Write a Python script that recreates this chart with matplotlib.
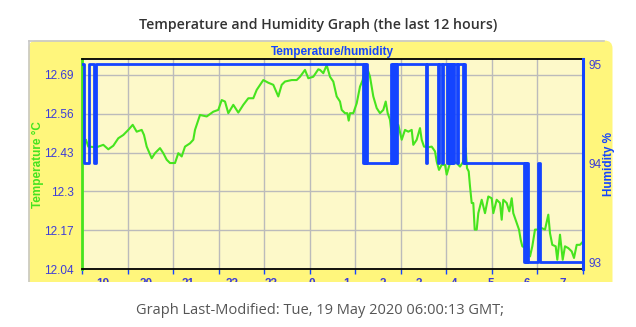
import matplotlib
matplotlib.use("Agg")
import matplotlib.pyplot as plt
import numpy as np
from matplotlib.patches import FancyBboxPatch, Rectangle
from matplotlib.lines import Line2D
from matplotlib.transforms import IdentityTransform

W, H = 636, 327

# temperature samples: (sample index, degC)
temp_idx = [
    1.7, 4, 6.3, 14.7, 21.3, 26.3, 31.3, 36.3, 41.3, 46.3, 50.7, 54.7, 59.7, 62, 64.7,
    69.7, 73, 78, 81.3, 84.7, 88, 93, 96.3, 99.7, 103, 108, 111.3, 113, 118, 124.7,
    131.3, 136.3, 139.7, 143, 146.3, 151.3, 156.3, 161.3, 166.3, 171.3, 174.7, 181.3,
    186.3, 191.3, 196.3, 199.7, 203, 209.7, 214.7, 218, 223, 226.3, 231.3, 236.3,
    238, 241.3, 244.7, 248, 251.3, 254.7, 258, 259.7, 263, 265.3, 266.7, 268, 271.3,
    274.7, 278, 280.7, 283, 285.3, 288, 291.3, 294.7, 298, 301.3, 303.7, 305.7, 308,
    309.7, 312, 316.3, 319.7, 323, 326.3, 329.7, 331.3, 334.7, 338, 339.7, 342, 346.3,
    349.7, 353, 354.7, 357, 359.7, 363, 364.7, 368, 371.3, 374.7, 378, 381.3, 383.7,
    385, 386.7, 388, 389.7, 391.3, 392.7, 394.7, 396.3, 399.7, 401.3, 403, 406.3,
    409.7, 411.3, 414.7, 418, 419.7, 421.3, 424.7, 427.3, 429.7, 431.3, 434.7, 437,
    438.7, 440.3, 443.7, 446.3, 448, 450.3, 453, 456.3, 459.7, 463, 466.3, 468, 470.3,
    473.7, 475.3, 478, 480.7, 483, 486.3, 489.7, 492, 494.7, 498, 501,
]
temp_vals = [
    12.450, 12.473, 12.450, 12.448, 12.456, 12.441, 12.453, 12.478, 12.489, 12.506,
    12.523, 12.500, 12.506, 12.489, 12.450, 12.411, 12.428, 12.445, 12.428, 12.406,
    12.395, 12.395, 12.428, 12.417, 12.450, 12.461, 12.473, 12.506, 12.556, 12.551,
    12.567, 12.573, 12.606, 12.601, 12.562, 12.590, 12.564, 12.590, 12.612, 12.612,
    12.640, 12.673, 12.664, 12.657, 12.618, 12.657, 12.668, 12.673, 12.673, 12.684,
    12.707, 12.679, 12.684, 12.709,
    12.707, 12.696, 12.723, 12.684, 12.668, 12.618, 12.601, 12.573, 12.562, 12.562,
    12.537, 12.562, 12.562, 12.595, 12.651, 12.673, 12.720, 12.712, 12.684, 12.618,
    12.579, 12.562, 12.573, 12.601, 12.562, 12.540, 12.489, 12.517, 12.523, 12.473,
    12.506, 12.500, 12.506, 12.456, 12.473, 12.512, 12.473, 12.450, 12.448, 12.450,
    12.434, 12.400, 12.372, 12.389, 12.389, 12.356, 12.395, 12.400, 12.395, 12.383,
    12.400, 12.445, 12.378, 12.367, 12.317, 12.261, 12.261, 12.172, 12.172, 12.227,
    12.272, 12.250, 12.227, 12.283, 12.277, 12.227, 12.272, 12.261, 12.205, 12.272,
    12.261, 12.233, 12.277, 12.227, 12.194, 12.172, 12.138, 12.116, 12.110, 12.116,
    12.082, 12.116, 12.172, 12.172, 12.177, 12.172, 12.222, 12.160, 12.121, 12.116,
    12.071, 12.155, 12.071, 12.116, 12.110, 12.099, 12.077, 12.121, 12.121, 12.132,
]

# humidity change points: (sample index, %), held until the next one
hum_idx = [
    0, 2, 7, 12, 14,
    281, 282, 283, 284, 285,
    309, 310, 311, 312, 313, 314, 315,
    344, 345,
    356, 357, 360, 361.5, 365, 366, 367, 368, 369, 370, 371, 372, 375, 375.7, 381, 382, 383,
    442, 443, 444, 445, 446, 456, 457.5, 501,
]
hum_vals = [
    95, 94, 95, 94, 95,
    94, 95, 94, 95, 94,
    95, 94, 95, 94, 95, 94, 95,
    94, 95,
    94, 95, 94, 95, 94, 95, 94, 95, 94, 95, 94, 95, 94, 95, 94, 95, 94,
    93, 94, 93, 94, 93, 94, 93, 93,
]

n_samples = 501
hour_labels = ["19", "20", "21", "22", "23", "0", "1", "2", "3", "4", "5", "6", "7"]
hour_label_idx = [20.7, 64, 106, 149.7, 189, 229.7, 264.7, 301.3, 337.3, 372.3, 408.7, 444.7, 480.7]

temp_ticks = [12.04, 12.17, 12.3, 12.43, 12.56, 12.69]
temp_tick_labels = ["12.04", "12.17", "12.3", "12.43", "12.56", "12.69"]
hum_ticks = [93, 94, 95]

GREEN = "#46e41e"
BLUE = "#1444ff"
LABEL_BLUE = "#3c3cd8"
PANEL = "#fff67c"
PLOT_BG = "#fdf9c9"

fig = plt.figure(figsize=(W / 100, H / 100), dpi=100)
fig.patch.set_facecolor("white")

# yellow panel behind the chart
panel = FancyBboxPatch((28.5, 20), 584, H - 40.5 - 20,
                       boxstyle="round,pad=0,rounding_size=8",
                       transform=IdentityTransform(), facecolor=PANEL,
                       edgecolor="none", zorder=-5)
fig.add_artist(panel)
fig.add_artist(Line2D([28.5, 604], [H - 40.5, H - 40.5], transform=IdentityTransform(),
                      color="#c8c8c8", lw=1.2, zorder=-4))
fig.add_artist(Line2D([28.5, 28.5], [H - 40.5, 20], transform=IdentityTransform(),
                      color="#c8c8c8", lw=1.2, zorder=-4))

left, right, top, bottom = 82, 583, 59.3, 269
ax = fig.add_axes([left / W, (H - bottom) / H, (right - left) / W, (bottom - top) / H])
ax.set_facecolor(PLOT_BG)

ax.plot(temp_idx, temp_vals, color=GREEN, lw=1.5, zorder=3)
ax.set_xlim(0, n_samples)
ax.set_ylim(12.04, 12.7425)

ax.set_yticks(temp_ticks, temp_tick_labels)
ax.set_xticks(np.linspace(0, n_samples, 12), [""] * 12)
ax.set_xticks(hour_label_idx, hour_labels, minor=True)
ax.grid(True, which="major", color="#bbbbbb", lw=1)
ax.set_axisbelow(True)

ax.tick_params(axis="y", length=0, pad=6, labelsize=8.5, labelcolor=LABEL_BLUE)
ax.tick_params(axis="x", which="major", length=3.5, width=1, color=BLUE, direction="out")
ax.tick_params(axis="x", which="minor", length=0, pad=6.5, labelsize=8.5, labelcolor=LABEL_BLUE)
for lab in ax.get_xticklabels(minor=True):
    lab.set_fontweight("bold")
for lab in ax.get_xticklabels(minor=True) + ax.get_yticklabels():
    lab.set_fontfamily("Liberation Sans")

ax.spines["left"].set_color(GREEN)
ax.spines["left"].set_linewidth(2)
ax.spines["top"].set_color("black")
ax.spines["top"].set_linewidth(1.3)
ax.spines["bottom"].set_color("black")
ax.spines["bottom"].set_linewidth(1.3)
ax.spines["right"].set_visible(False)

ax2 = ax.twinx()
ax2.step(hum_idx, hum_vals, where="post", color=BLUE, lw=2.0, zorder=4)
ax2.set_ylim(92.932, 95.05)
ax2.set_yticks(hum_ticks, [str(t) for t in hum_ticks])
ax2.tick_params(axis="y", length=0, pad=4, labelsize=8.5, labelcolor=LABEL_BLUE)
for lab in ax2.get_yticklabels():
    lab.set_fontfamily("Liberation Sans")
for side in ["left", "top", "bottom"]:
    ax2.spines[side].set_visible(False)
ax2.spines["right"].set_color(BLUE)
ax2.spines["right"].set_linewidth(2.2)

ax.set_title("Temperature/humidity", color=BLUE, fontsize=8.5, fontweight="bold",
             family="Liberation Sans", pad=3)
ax.set_ylabel("Temperature °C", color=GREEN, fontsize=8.5, fontweight="bold",
              family="Liberation Sans", labelpad=0)
ax2.set_ylabel("Humidity %", color=BLUE, fontsize=8.5, fontweight="bold",
               family="Liberation Sans", rotation=90, labelpad=1)

# panel is cut off just under the hour labels
fig.add_artist(Rectangle((0, 0), W, H - 282, transform=IdentityTransform(),
                         facecolor="white", edgecolor="none", zorder=10))

fig.text(0.5, 1 - 25 / H, "Temperature and Humidity Graph (the last 12 hours)",
         ha="center", va="center", fontsize=10.2, fontweight="semibold",
         family="Open Sans", color="#333333", zorder=11)
fig.text(320 / W, 1 - 310 / H, "Graph Last-Modified: Tue, 19 May 2020 06:00:13 GMT;",
         ha="center", va="center", fontsize=10.5, family="Open Sans",
         color="#555555", zorder=11)

fig.savefig("out.png", dpi=100)
